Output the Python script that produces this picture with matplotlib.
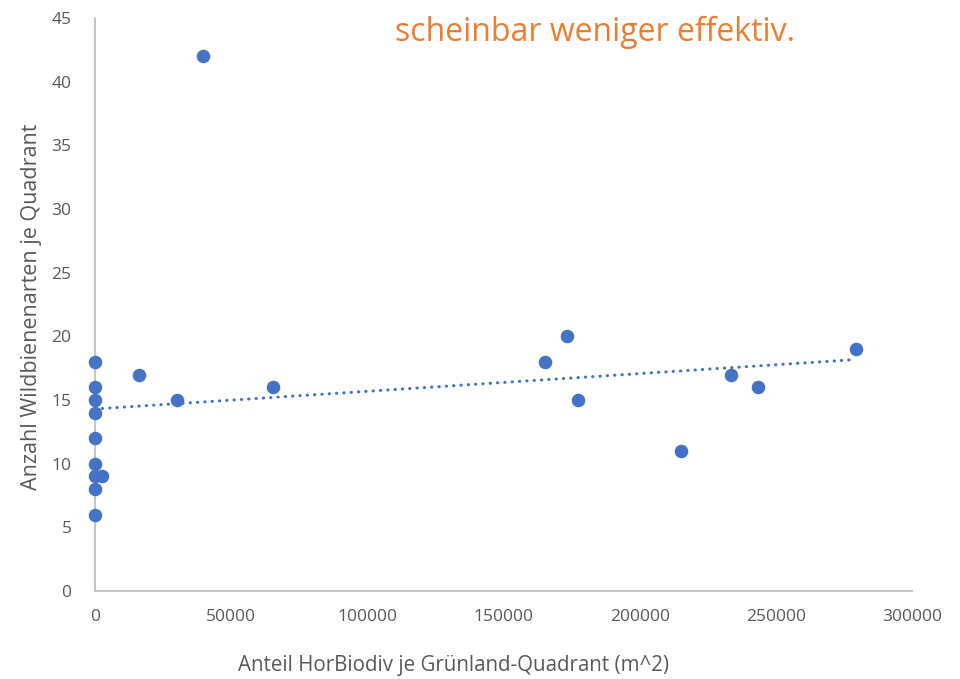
import numpy as np
import matplotlib
matplotlib.use("Agg")
import matplotlib.pyplot as plt

plt.rcParams['font.family'] = ['Open Sans', 'DejaVu Sans']

# Anteil HorBiodiv je Quadrant (m^2) vs Anzahl Wildbienenarten
area = [0, 0, 0, 0, 0, 0, 0, 0, 0, 2600, 16200, 30100, 39700, 65400,
        165200, 173300, 177400, 215200, 233500, 243500, 279400]
species = [18, 16, 15, 14, 12, 10, 9, 8, 6, 9, 17, 15, 42, 16,
           18, 20, 15, 11, 17, 16, 19]

x_ticks = [0, 50000, 100000, 150000, 200000, 250000, 300000]
y_ticks = [0, 5, 10, 15, 20, 25, 30, 35, 40, 45]

blue = '#4472C4'
grey_text = '#595959'
grey_axis = '#BFBFBF'

fig = plt.figure(figsize=(9.6, 6.79), dpi=100)
ax = fig.add_axes([95 / 960, 1 - 591 / 679, (912 - 95) / 960, (591 - 18) / 679])

ax.scatter(area, species, s=95, color=blue, zorder=3, linewidths=0, clip_on=False)

# linear trendline
m, b = np.polyfit(area, species, 1)
xt = np.array([0, max(area)])
line, = ax.plot(xt, m * xt + b, color=blue, lw=2.2,
                linestyle=(0, (0.1, 2.3)), zorder=2)
line.set_dash_capstyle('round')

ax.set_xlim(0, 300000)
ax.set_ylim(0, 45)
ax.set_xticks(x_ticks)
ax.set_yticks(y_ticks)
ax.set_xticklabels([str(t) for t in x_ticks])
ax.tick_params(length=0, labelsize=12.5, labelcolor=grey_text)
ax.tick_params(axis='x', pad=13)
ax.tick_params(axis='y', pad=17)

for s in ['top', 'right']:
    ax.spines[s].set_visible(False)
for s in ['left', 'bottom']:
    ax.spines[s].set_color(grey_axis)
    ax.spines[s].set_linewidth(1.3)

fig.text(453 / 960, 1 - 665 / 679, 'Anteil HorBiodiv je Grünland-Quadrant (m^2)',
         ha='center', va='center', fontsize=14.8, color=grey_text)
fig.text(32 / 960, 1 - 307 / 679, 'Anzahl Wildbienenarten je Quadrant',
         ha='center', va='center', rotation=90, fontsize=15.5, color=grey_text)

fig.text(595 / 960, 1 - 32 / 679, 'scheinbar weniger effektiv.',
         ha='center', va='center', fontsize=23, color='#ED7D31')

fig.savefig('out.png', dpi=100)
